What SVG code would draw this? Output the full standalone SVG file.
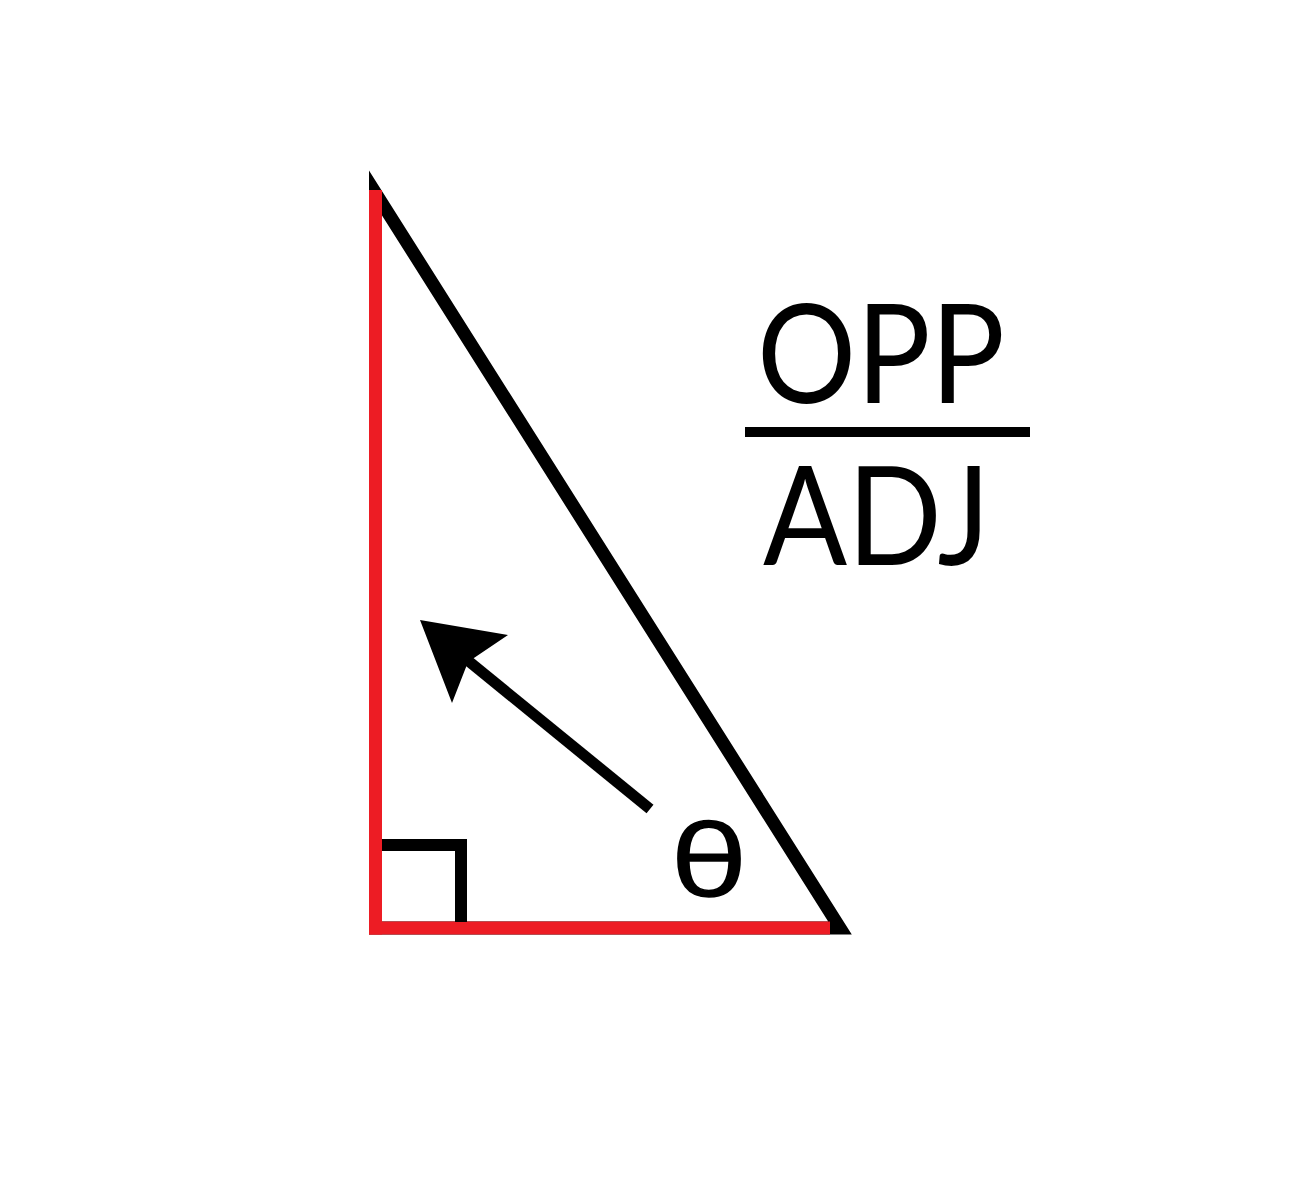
<svg xmlns="http://www.w3.org/2000/svg" width="1298" height="1200" viewBox="0 0 1298 1200">
  <style>
    .blk { fill: none; stroke: #000; stroke-width: 13; stroke-linejoin: miter; stroke-miterlimit: 10; }
    .red { fill: none; stroke: #ED1C24; stroke-width: 13; stroke-linecap: butt; }
    .box { fill: none; stroke: #000; stroke-width: 12; stroke-linejoin: miter; }
    .lbl { font-family: Lato, "Open Sans", "Liberation Sans", sans-serif; font-size: 137px; fill: #000; }
    .theta { font-family: "Open Sans", "DejaVu Sans", sans-serif; font-size: 98px; fill: #000; stroke: #000; stroke-width: 1.5; }
  </style>
  <rect width="1298" height="1200" fill="#fff"/>
  <g id="triangle">
    <path class="blk" d="M375.5,193 L375.5,928 L840,928 Z"/>
    <line class="red" x1="375.5" y1="190" x2="375.5" y2="934.5"/>
    <line class="red" x1="369" y1="928" x2="830" y2="928"/>
  </g>
  <g id="right-angle">
    <path class="box" d="M382,845 L461,845 L461,922"/>
  </g>
  <g id="connectors">
    <line x1="650" y1="809" x2="466" y2="659" stroke="#000" stroke-width="11"/>
    <polygon points="420,620 508,635 468,662 452,703" fill="#000"/>
  </g>
  <g id="theta-label">
    <text class="theta" x="709" y="896" text-anchor="middle" textLength="76" lengthAdjust="spacingAndGlyphs">θ</text>
  </g>
  <g id="ratio">
    <text class="lbl" x="757" y="403" textLength="248" lengthAdjust="spacingAndGlyphs">OPP</text>
    <line x1="745" y1="432" x2="1030" y2="432" stroke="#000" stroke-width="10"/>
    <text class="lbl" x="763" y="565" textLength="227" lengthAdjust="spacingAndGlyphs">ADJ</text>
  </g>
</svg>
